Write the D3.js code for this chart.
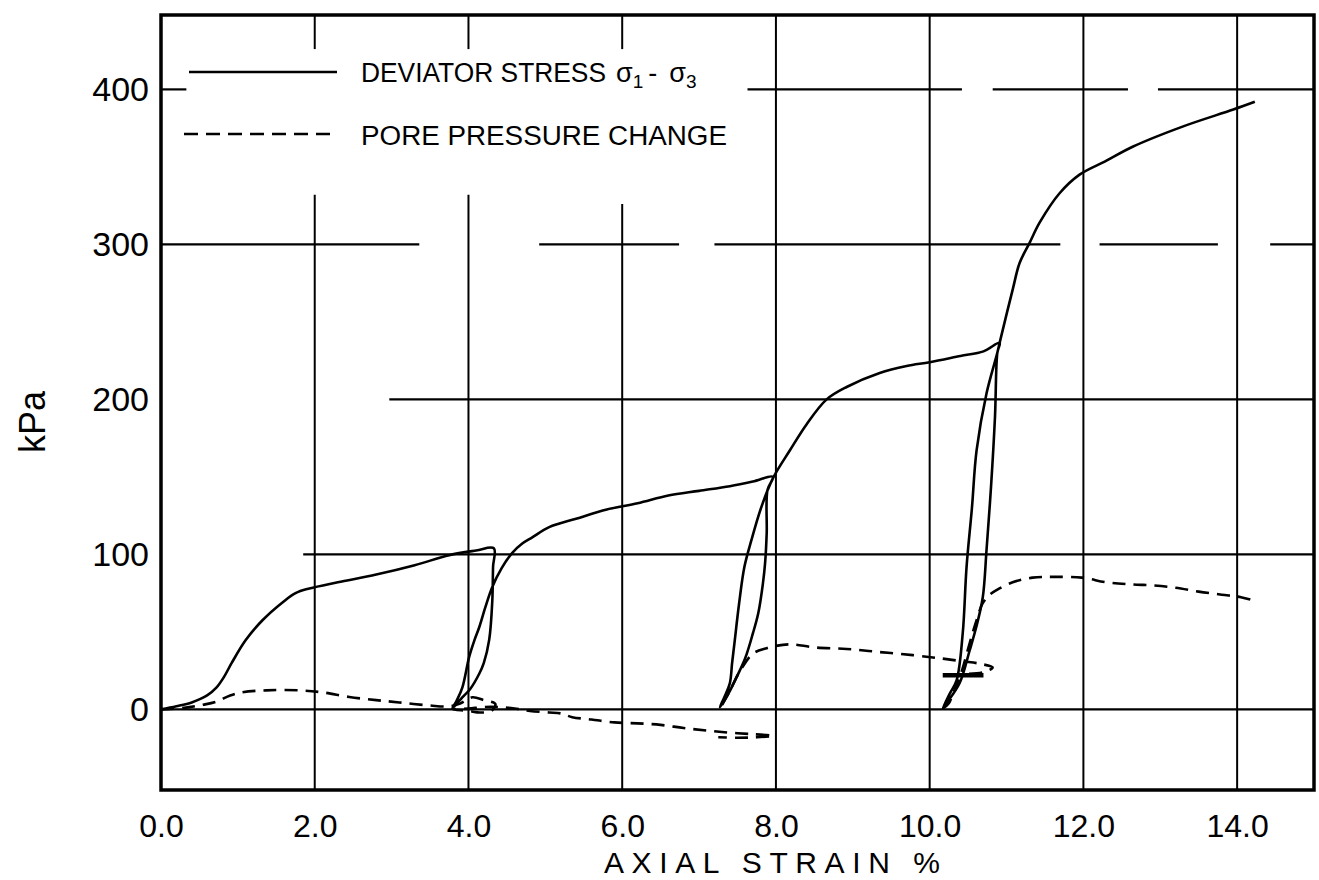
<!DOCTYPE html>
<html>
<head>
<meta charset="utf-8">
<script src="https://cdn.jsdelivr.net/npm/d3@7"></script>
<style>
body { margin: 0; background: #fff; }
text { font-family: "Liberation Sans", Arial, sans-serif; fill: #000; }
</style>
</head>
<body>
<svg id="chart" width="1319" height="880"></svg>
<script>
// deviator stress (strain %, kPa), follows the load/unload loops in order
var devStrain = [0, 0.2, 0.4, 0.6, 0.72, 0.82, 0.92, 1.1, 1.32, 1.58, 1.75, 1.93, 2.3, 2.8, 3.3, 3.75, 4.1, 4.33,
	4.32, 4.31, 4.27, 4.2, 4.14, 4.02, 3.92, 3.79,
	3.85, 3.92, 4.01, 4.08, 4.14, 4.22, 4.31, 4.43, 4.57, 4.7, 4.83, 5.05, 5.4, 5.8, 6.2, 6.6, 7.0, 7.4, 7.7, 7.96,
	7.89, 7.88, 7.86, 7.83, 7.77, 7.7, 7.6, 7.49, 7.38, 7.27,
	7.33, 7.4, 7.43, 7.46, 7.52, 7.59, 7.68, 7.81, 7.96,
	8.18, 8.4, 8.66, 8.92, 9.35, 9.7, 10.0, 10.4, 10.7, 10.91,
	10.88, 10.85, 10.8, 10.74, 10.69, 10.6, 10.52, 10.39, 10.22, 10.17,
	10.26, 10.35, 10.43, 10.48, 10.55, 10.61, 10.74, 10.88, 10.91,
	11.08, 11.17, 11.3, 11.43, 11.69, 11.95, 12.3, 12.64, 13.29, 13.95, 14.23];
var devStress = [0, 2, 4.5, 9, 14, 21, 30, 44.6, 57.5, 69, 75, 78, 82, 87, 93, 99.5, 102.5, 104,
	92, 70, 45, 30, 23, 13, 7.8, 0.6,
	6, 14, 34, 45, 53, 66, 79, 91, 101, 107, 111, 117.6, 123, 129, 133, 138, 141, 144, 147, 150,
	141.5, 114, 95, 81, 62, 49, 33, 21, 10, 1.3,
	8, 16.8, 30, 42.6, 68, 92, 109, 130.5, 149,
	167, 184, 200, 208, 217, 221.5, 224, 228, 231, 236.5,
	230, 189, 145, 103, 72, 52, 38, 17, 4, 0.6,
	10, 18.7, 49, 92, 130, 167, 204, 230, 236.5,
	270.8, 288, 301, 314, 333, 345, 354, 363, 376, 387, 392];

// pore pressure change, null = pen lifted
var poreStrain = [0, 0.3, 0.55, 0.72, 0.9, 1.05, 1.37, 1.8, 2.1, 2.45, 2.8, 3.1, 3.5, 3.75, 3.9, 4.05, 4.2, 4.35, 4.3, 4.15,
	4.0, 3.8, 4.0, 4.2, 4.4, 4.6, 4.8, 5.05, 5.2, 5.35, 5.6, 5.9, 6.2, 6.5, 6.8, 7.1, 7.4, 7.7, 7.96, 7.75, 7.5, 7.25,
	null,
	7.3, 7.4, 7.5, 7.56, 7.7, 7.88, 8.0, 8.2, 8.5, 8.92, 9.35, 9.78, 10.13, 10.43, 10.65, 10.82, 10.7, 10.5,
	null,
	10.17, 10.25, 10.3, 10.4, 10.52, 10.6, 10.69, 10.78, 10.87, 11.08, 11.34, 11.6, 11.98, 12.3, 12.6, 12.9, 13.2, 13.5, 13.8, 14.05, 14.25];
var porePress = [0, 1, 3, 5, 9, 11, 12.3, 12.3, 11, 8, 6, 4.5, 2.5, 2, 4, 7.8, 6, 3.5, -1, -2,
	-1, 0, 0.5, 1.5, 1.5, 0.6, -1, -2, -2.6, -5, -6.5, -8.4, -9, -10, -12, -13.6, -15, -16, -17, -18, -18.3, -18,
	null,
	3, 12, 22, 27, 36, 39.5, 41, 42, 40, 39, 37, 35, 33, 31, 29.5, 27, 24, 23,
	null,
	0.6, 4, 10, 22, 42.6, 56, 68.5, 74, 77, 82, 85, 85.5, 85, 82, 80.7, 80, 78.5, 76, 74, 72.4, 69.7];

// short hand-drawn bar near 10.4 %
var markStrain = [10.17, 10.7];
var markPress = [22, 22];

var xTicks = [0, 2, 4, 6, 8, 10, 12, 14];
var yTicks = [0, 100, 200, 300, 400];

// grid lines and the stretches where they are actually printed
var gridY = [0, 100, 200, 300, 400];
var gridYSpans = [
	[[0, 15]],
	[[1.85, 15]],
	[[2.97, 15]],
	[[0, 3.36], [4.92, 6.74], [7.2, 11.7], [12.21, 13.75], [14.43, 15]],
	[[0, 0.33], [7.63, 10.42], [10.82, 12.58], [12.97, 15]]
];
var gridX = [2, 4, 6, 8, 10, 12, 14];
var gridXSpans = [
	[[-52, 332], [426, 448]],
	[[-52, 332], [426, 448]],
	[[-52, 326], [426, 448]],
	[[-52, 448]],
	[[-52, 448]],
	[[-52, 448]],
	[[-52, 448]]
];

var svg = d3.select('#chart');

var x = d3.scaleLinear().domain([0, 15]).range([161, 1314]);
var y = d3.scaleLinear().domain([-52, 448]).range([790, 15]);

// grid
gridY.forEach(function(v, i) {
	gridYSpans[i].forEach(function(s) {
		svg.append('line')
			.attr('x1', x(s[0])).attr('x2', x(s[1]))
			.attr('y1', y(v)).attr('y2', y(v))
			.attr('stroke', '#000').attr('stroke-width', 2.2);
	});
});
gridX.forEach(function(v, i) {
	gridXSpans[i].forEach(function(s) {
		svg.append('line')
			.attr('x1', x(v)).attr('x2', x(v))
			.attr('y1', y(s[0])).attr('y2', y(s[1]))
			.attr('stroke', '#000').attr('stroke-width', 2);
	});
});

// frame
svg.append('rect')
	.attr('x', x(0)).attr('y', y(448))
	.attr('width', x(15) - x(0)).attr('height', y(-52) - y(448))
	.attr('fill', 'none').attr('stroke', '#000').attr('stroke-width', 3.5);

// axes (labels only, the grid does the ticks)
var xAxis = svg.append('g')
	.attr('transform', 'translate(0,' + y(-52) + ')')
	.call(d3.axisBottom(x).tickValues(xTicks).tickSize(0).tickPadding(24)
		.tickFormat(d3.format('.1f')));
xAxis.select('.domain').remove();
xAxis.selectAll('text')
	.attr('font-family', '"Liberation Sans", Arial, sans-serif')
	.attr('font-size', 32);

var yAxis = svg.append('g')
	.attr('transform', 'translate(' + x(0) + ',0)')
	.call(d3.axisLeft(y).tickValues(yTicks).tickSize(0).tickPadding(12));
yAxis.select('.domain').remove();
yAxis.selectAll('text')
	.attr('font-family', '"Liberation Sans", Arial, sans-serif')
	.attr('font-size', 34);

svg.append('text')
	.attr('x', 772).attr('y', 873)
	.attr('text-anchor', 'middle')
	.attr('font-size', 30)
	.attr('textLength', 336)
	.attr('lengthAdjust', 'spacing')
	.text('AXIAL  STRAIN  %');

svg.append('text')
	.attr('transform', 'translate(45,422) rotate(-90)')
	.attr('text-anchor', 'middle')
	.attr('font-size', 36)
	.text('kPa');

// curves
var devLine = d3.line()
	.x(function(d) { return x(d[0]); })
	.y(function(d) { return y(d[1]); })
	.curve(d3.curveCatmullRom.alpha(0.5));

var poreLine = d3.line()
	.defined(function(d) { return d[0] != null; })
	.x(function(d) { return x(d[0]); })
	.y(function(d) { return y(d[1]); })
	.curve(d3.curveCatmullRom.alpha(0.5));

svg.append('path')
	.datum(devStrain.map(function(s, i) { return [s, devStress[i]]; }))
	.attr('d', devLine)
	.attr('fill', 'none').attr('stroke', '#000').attr('stroke-width', 2.6)
	.attr('stroke-linejoin', 'round');

svg.append('path')
	.datum(poreStrain.map(function(s, i) { return [s, porePress[i]]; }))
	.attr('d', poreLine)
	.attr('fill', 'none').attr('stroke', '#000').attr('stroke-width', 2.6)
	.attr('stroke-dasharray', '13,8');

svg.append('path')
	.datum(markStrain.map(function(s, i) { return [s, markPress[i]]; }))
	.attr('d', d3.line().x(function(d) { return x(d[0]); }).y(function(d) { return y(d[1]); }))
	.attr('stroke', '#000').attr('stroke-width', 4.5);

// legend
var legend = svg.append('g');
legend.append('line')
	.attr('x1', 189).attr('x2', 337).attr('y1', 72).attr('y2', 72)
	.attr('stroke', '#000').attr('stroke-width', 2.4);
legend.append('line')
	.attr('x1', 184).attr('x2', 337).attr('y1', 134).attr('y2', 134)
	.attr('stroke', '#000').attr('stroke-width', 2.4)
	.attr('stroke-dasharray', '14,8');

legend.append('text')
	.attr('x', 361).attr('y', 82)
	.attr('font-size', 27)
	.attr('textLength', 245).attr('lengthAdjust', 'spacingAndGlyphs')
	.text('DEVIATOR  STRESS');
var sig = legend.append('text')
	.attr('x', 616).attr('y', 82)
	.attr('font-size', 27);
sig.append('tspan').text('σ');
sig.append('tspan').attr('font-size', 19).attr('dy', 6).text('1');
sig.append('tspan').attr('dy', -6).attr('dx', 5).text('-');
sig.append('tspan').attr('dx', 12).text('σ');
sig.append('tspan').attr('font-size', 19).attr('dy', 6).text('3');

legend.append('text')
	.attr('x', 361).attr('y', 145)
	.attr('font-size', 27)
	.attr('textLength', 366).attr('lengthAdjust', 'spacingAndGlyphs')
	.text('PORE  PRESSURE  CHANGE');
</script>
</body>
</html>
